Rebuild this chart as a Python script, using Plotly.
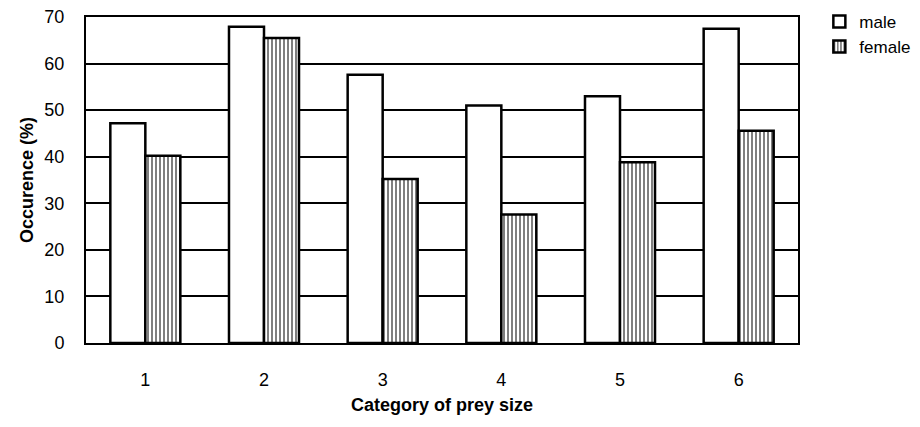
import plotly.graph_objects as go

categories = ["1", "2", "3", "4", "5", "6"]
male = [47.2, 67.9, 57.6, 51.0, 53.0, 67.5]
female = [40.2, 65.5, 35.2, 27.6, 38.8, 45.6]
y_ticks = [0, 10, 20, 30, 40, 50, 60, 70]

FONT = "Liberation Sans, Arial, sans-serif"

fig = go.Figure()
fig.add_trace(go.Bar(
    x=categories, y=male, name="male",
    marker=dict(color="white", line=dict(color="black", width=2.5)),
))
fig.add_trace(go.Bar(
    x=categories, y=female, name="female",
    marker=dict(color="white", line=dict(color="black", width=2.5),
                pattern=dict(shape="|", fgcolor="black", bgcolor="white",
                             size=4, solidity=0.5)),
))

fig.update_layout(
    width=920, height=427,
    margin=dict(l=86, r=122, t=17, b=84, autoexpand=False),
    paper_bgcolor="white", plot_bgcolor="white",
    barmode="group", bargap=0.41, bargroupgap=0,
    font=dict(family=FONT, size=17, color="black"),
    legend=dict(x=1.03, y=1.04, xanchor="left", yanchor="top",
                font=dict(size=17), itemwidth=30, tracegroupgap=0,
                bgcolor="rgba(0,0,0,0)"),
    showlegend=True,
)
fig.update_xaxes(
    showline=True, linecolor="black", linewidth=2, mirror=True,
    ticks="", ticklabelstandoff=19,
    tickfont=dict(size=18),
    title=dict(text="<b>Category of prey size</b>", font=dict(size=18), standoff=10),
)
fig.update_yaxes(
    range=[0, 70], tickvals=y_ticks,
    showline=True, linecolor="black", linewidth=2, mirror=True,
    showgrid=True, gridcolor="black", gridwidth=1.5,
    zeroline=False, ticks="", ticklabelstandoff=16,
    tickfont=dict(size=18),
    title=dict(text="<b>Occurence (%)</b>", font=dict(size=18), standoff=6),
)

fig.write_html("out.html")
